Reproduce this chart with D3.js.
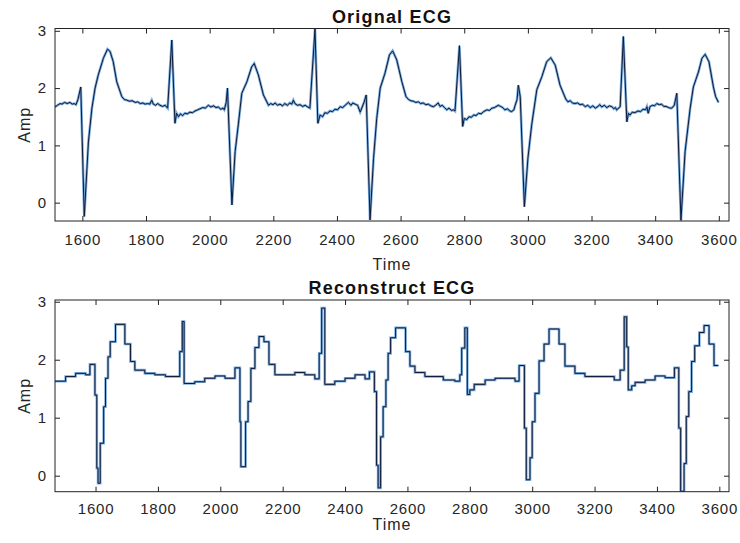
<!DOCTYPE html>
<html>
<head>
<meta charset="utf-8">
<script src="https://cdn.jsdelivr.net/npm/d3@7/dist/d3.min.js"></script>
<style>
  body { margin: 0; background: #fff; }
  svg { display: block; }
  .tick text { font-family: "Liberation Sans", Arial, sans-serif; font-size: 15px; fill: #262626; letter-spacing: 0.8px; }
  .tick line { stroke: #222; }
  .title { font-family: "Liberation Sans", Arial, sans-serif; font-size: 18px; font-weight: bold; fill: #111; letter-spacing: 1.2px; }
  .label { font-family: "Liberation Sans", Arial, sans-serif; font-size: 16px; fill: #262626; letter-spacing: 1px; }
</style>
</head>
<body>
<svg width="740" height="543"></svg>
<script>
// axis limits and ticks
let xTicks = [1600, 1800, 2000, 2200, 2400, 2600, 2800, 3000, 3200, 3400, 3600]
let yTicks = [0, 1, 2, 3]
let xLimTop = [1514, 3632]
let yLimTop = [-0.32, 3.04]
let xLimBottom = [1470, 3631]
let yLimBottom = [-0.276, 3.03]

// original ECG
let origT = [1514, 1522, 1530, 1536, 1544, 1552, 1561, 1568, 1574, 1580, 1586, 1595, 1606,
  1619, 1630, 1640, 1650, 1666, 1679, 1687, 1697, 1708, 1724, 1732, 1740, 1748, 1756, 1766,
  1774, 1782, 1790, 1797, 1805, 1812, 1818, 1823, 1830, 1837, 1844, 1852, 1860, 1868, 1881,
  1891, 1896, 1902, 1908, 1915, 1922, 1930, 1938, 1946, 1954, 1962, 1970, 1978, 1986, 1996,
  2004, 2012, 2020, 2027, 2035, 2042, 2046, 2052, 2056, 2070, 2080, 2090, 2101, 2117, 2132,
  2140, 2153, 2169, 2185, 2192, 2199, 2206, 2213, 2221, 2229, 2236, 2244, 2252, 2258, 2263,
  2268, 2276, 2284, 2292, 2300, 2308, 2315, 2331, 2340, 2347, 2355, 2362, 2370, 2378, 2386,
  2394, 2402, 2410, 2418, 2426, 2436, 2444, 2450, 2457, 2465, 2473, 2485, 2492, 2504, 2515,
  2525, 2536, 2551, 2565, 2575, 2588, 2604, 2617, 2625, 2632, 2640, 2648, 2656, 2663, 2671,
  2679, 2687, 2695, 2703, 2710, 2718, 2724, 2731, 2738, 2745, 2752, 2760, 2766, 2771, 2785,
  2795, 2800, 2808, 2815, 2822, 2830, 2837, 2845, 2853, 2861, 2871, 2879, 2887, 2895, 2907,
  2914, 2921, 2928, 2936, 2943, 2949, 2956, 2960, 2966, 2970, 2976, 2989, 3000, 3012, 3028,
  3044, 3059, 3072, 3086, 3101, 3119, 3126, 3133, 3140, 3148, 3156, 3164, 3172, 3180, 3188,
  3196, 3204, 3212, 3220, 3226, 3232, 3240, 3248, 3256, 3264, 3270, 3275, 3279, 3290, 3300,
  3311, 3316, 3321, 3328, 3336, 3346, 3354, 3362, 3370, 3374, 3378, 3384, 3392, 3398, 3405,
  3413, 3420, 3427, 3434, 3442, 3448, 3452, 3460, 3468, 3481, 3494, 3510, 3520, 3536, 3547,
  3557, 3569, 3583, 3590, 3599]
let origV = [1.67, 1.70, 1.73, 1.72, 1.75, 1.73, 1.75, 1.72, 1.73, 1.71, 1.80, 2.02, -0.24,
  1.06, 1.65, 2.00, 2.23, 2.52, 2.68, 2.64, 2.46, 2.11, 1.85, 1.80, 1.79, 1.77, 1.78, 1.75,
  1.76, 1.73, 1.74, 1.72, 1.73, 1.72, 1.79, 1.72, 1.70, 1.73, 1.70, 1.68, 1.70, 1.65, 2.84,
  1.385, 1.56, 1.50, 1.55, 1.52, 1.56, 1.55, 1.58, 1.57, 1.60, 1.62, 1.64, 1.66, 1.65, 1.70,
  1.67, 1.69, 1.66, 1.67, 1.63, 1.65, 1.62, 1.75, 2.00, -0.04, 0.89, 1.36, 1.91, 2.11, 2.37,
  2.43, 2.23, 1.88, 1.70, 1.73, 1.71, 1.74, 1.70, 1.72, 1.69, 1.73, 1.70, 1.74, 1.72, 1.79,
  1.73, 1.70, 1.71, 1.68, 1.70, 1.67, 1.65, 3.03, 1.385, 1.53, 1.50, 1.57, 1.56, 1.60, 1.59,
  1.63, 1.62, 1.675, 1.66, 1.70, 1.75, 1.70, 1.74, 1.72, 1.70, 1.58, 1.75, 1.88, -0.30, 0.77,
  1.47, 2.00, 2.26, 2.58, 2.65, 2.49, 2.11, 1.85, 1.80, 1.78, 1.77, 1.75, 1.76, 1.73, 1.74,
  1.71, 1.72, 1.69, 1.675, 1.70, 1.74, 1.68, 1.70, 1.66, 1.62, 1.65, 1.61, 1.62, 1.60, 2.74,
  1.33, 1.47, 1.45, 1.50, 1.49, 1.53, 1.52, 1.56, 1.55, 1.59, 1.62, 1.61, 1.65, 1.66, 1.70,
  1.68, 1.66, 1.62, 1.64, 1.60, 1.59, 1.62, 1.70, 1.80, 2.05, 1.85, -0.07, 0.77, 1.36, 1.97,
  2.20, 2.46, 2.53, 2.40, 2.05, 1.81, 1.76, 1.78, 1.74, 1.73, 1.74, 1.71, 1.72, 1.675, 1.70,
  1.66, 1.69, 1.65, 1.68, 1.71, 1.67, 1.70, 1.66, 1.69, 1.675, 1.64, 1.66, 1.62, 1.675, 2.90,
  1.41, 1.56, 1.53, 1.58, 1.57, 1.60, 1.59, 1.63, 1.62, 1.675, 1.56, 1.68, 1.70, 1.69, 1.73,
  1.71, 1.72, 1.68, 1.68, 1.66, 1.65, 1.65, 1.70, 1.91, -0.31, 0.89, 1.65, 2.02, 2.28, 2.52,
  2.59, 2.46, 2.02, 1.85, 1.75]

// reconstructed ECG: step start times and held values
let reconT = [1470, 1504, 1536, 1568, 1582, 1598, 1604, 1608, 1615, 1626, 1632, 1640, 1647,
  1664, 1694, 1712, 1726, 1758, 1790, 1824, 1870, 1878, 1884, 1918, 1950, 1983, 2015, 2047,
  2063, 2066, 2081, 2089, 2098, 2111, 2124, 2140, 2156, 2175, 2239, 2271, 2303, 2317, 2325,
  2335, 2367, 2400, 2432, 2464, 2478, 2494, 2501, 2506, 2514, 2522, 2531, 2538, 2546, 2562,
  2594, 2608, 2624, 2656, 2715, 2752, 2768, 2774, 2784, 2792, 2800, 2814, 2849, 2881, 2945,
  2958, 2975, 2981, 2993, 3000, 3009, 3022, 3038, 3054, 3086, 3105, 3137, 3169, 3263, 3282,
  3295, 3303, 3308, 3319, 3330, 3362, 3394, 3426, 3456, 3470, 3476, 3487, 3494, 3502, 3511,
  3521, 3536, 3551, 3567, 3583, 3597]
let reconV = [1.63, 1.71, 1.765, 1.74, 1.92, 1.39, 0.13, -0.13, 0.56, 1.19, 1.68, 2.05, 2.31,
  2.61, 2.27, 1.97, 1.82, 1.765, 1.74, 1.71, 2.14, 2.66, 1.59, 1.62, 1.68, 1.72, 1.68, 1.86,
  0.93, 0.155, 0.93, 1.28, 1.85, 2.21, 2.40, 2.31, 1.92, 1.74, 1.78, 1.74, 1.67, 2.11, 2.89,
  1.575, 1.63, 1.68, 1.74, 1.67, 1.79, 1.45, 0.18, -0.21, 0.67, 1.19, 1.65, 2.11, 2.38, 2.55,
  2.14, 1.89, 1.78, 1.71, 1.65, 1.63, 1.74, 2.20, 2.55, 1.40, 1.48, 1.575, 1.65, 1.68, 1.63,
  1.90, 0.82, -0.07, 0.31, 0.93, 1.42, 1.98, 2.27, 2.53, 2.27, 1.89, 1.765, 1.71, 1.65, 1.82,
  2.74, 2.22, 1.48, 1.55, 1.61, 1.65, 1.72, 1.69, 1.86, 0.82, -0.27, 0.21, 1.02, 1.45, 1.97,
  2.24, 2.47, 2.59, 2.27, 1.90, 1.90]

let svg = d3.select('svg')
let left = 55
let right = 729

function panel(opts) {
  let x = d3.scaleLinear().domain(opts.xLim).range([left, right])
  let y = d3.scaleLinear().domain(opts.yLim).range([opts.bottom, opts.top])
  let g = svg.append('g')

  g.append('clipPath').attr('id', opts.id)
    .append('rect')
    .attr('x', left).attr('y', opts.top)
    .attr('width', right - left).attr('height', opts.bottom - opts.top)

  let pts = opts.t.map((t, i) => [t, opts.v[i]])
  let line = d3.line().x(d => x(d[0])).y(d => y(d[1])).curve(opts.curve)

  let lines = g.append('g').attr('clip-path', `url(#${opts.id})`)
  lines.append('path')
    .attr('d', line(pts))
    .attr('fill', 'none')
    .attr('stroke', '#5b97d2')
    .attr('stroke-width', 2.6)
    .attr('stroke-opacity', 0.8)
  lines.append('path')
    .attr('d', line(pts))
    .attr('fill', 'none')
    .attr('stroke', '#0c1a3a')
    .attr('stroke-width', 1)

  let fmt = d3.format('d')

  // inward ticks on all four sides
  g.append('g').attr('transform', `translate(0 ${opts.bottom})`)
    .call(d3.axisBottom(x).tickValues(xTicks).tickFormat(fmt).tickSize(-5).tickSizeOuter(0).tickPadding(opts.xPad))
  g.append('g').attr('transform', `translate(0 ${opts.top})`)
    .call(d3.axisTop(x).tickValues(xTicks).tickSize(-5).tickSizeOuter(0).tickFormat(''))
  g.append('g').attr('transform', `translate(${left} 0)`)
    .call(d3.axisLeft(y).tickValues(yTicks).tickFormat(fmt).tickSize(-5).tickSizeOuter(0).tickPadding(8))
  g.append('g').attr('transform', `translate(${right} 0)`)
    .call(d3.axisRight(y).tickValues(yTicks).tickSize(-5).tickSizeOuter(0).tickFormat(''))
  g.selectAll('.domain').remove()

  g.append('rect')
    .attr('x', left).attr('y', opts.top)
    .attr('width', right - left).attr('height', opts.bottom - opts.top)
    .attr('fill', 'none')
    .attr('stroke', '#222')
    .attr('stroke-width', 1)

  g.append('text').attr('class', 'title')
    .attr('x', 392).attr('y', opts.top - 6)
    .attr('text-anchor', 'middle')
    .text(opts.title)

  g.append('text').attr('class', 'label')
    .attr('x', 392).attr('y', opts.timeY)
    .attr('text-anchor', 'middle')
    .text('Time')

  g.append('text').attr('class', 'label')
    .attr('transform', `translate(30 ${(opts.top + opts.bottom) / 2}) rotate(-90)`)
    .attr('text-anchor', 'middle')
    .text('Amp')
}

panel({
  id: 'clipTop', title: 'Orignal ECG', t: origT, v: origV,
  xLim: xLimTop, yLim: yLimTop, top: 28.5, bottom: 221, xPad: 13.5, timeY: 270,
  curve: d3.curveLinear
})

panel({
  id: 'clipBottom', title: 'Reconstruct ECG', t: reconT, v: reconV,
  xLim: xLimBottom, yLim: yLimBottom, top: 300, bottom: 491.7, xPad: 12, timeY: 530,
  curve: d3.curveStepAfter
})
</script>
</body>
</html>
